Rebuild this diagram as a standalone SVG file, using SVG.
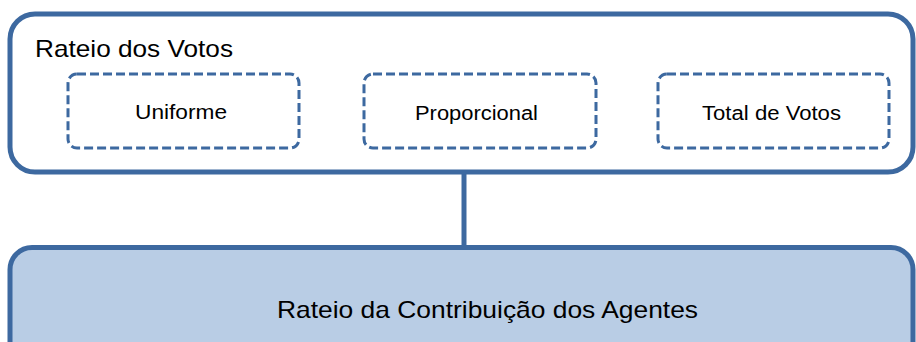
<svg xmlns="http://www.w3.org/2000/svg" width="916" height="342" viewBox="0 0 916 342">
<style>
.outer{fill:#FFFFFF;stroke:#3D69A0;stroke-width:5}
.base{fill:#B9CDE5;stroke:#3D69A0;stroke-width:5}
.dash{fill:#FFFFFF;stroke:#3D69A0;stroke-width:3;stroke-dasharray:9 4}
.conn{stroke:#3D69A0;stroke-width:5;fill:none}
text{font-family:"Liberation Sans",Arial,sans-serif;fill:#000000}
.t20{font-size:20px}
.t24{font-size:24px}
</style>
<rect width="916" height="342" fill="#FFFFFF"/>
<g id="connectors">
<line class="conn" x1="464" y1="172" x2="464" y2="247"/>
</g>
<g id="rateio-votos">
<rect class="outer" x="10" y="14" width="903" height="158" rx="25" ry="25"/>
<text class="t24" x="35" y="57" textLength="198" lengthAdjust="spacingAndGlyphs">Rateio dos Votos</text>
</g>
<g id="uniforme">
<rect class="dash" x="68" y="74" width="231" height="74" rx="9" ry="9"/>
<text class="t20" x="135" y="119" textLength="92" lengthAdjust="spacingAndGlyphs">Uniforme</text>
</g>
<g id="proporcional">
<rect class="dash" x="364" y="74" width="232" height="74" rx="9" ry="9"/>
<text class="t20" x="415" y="120" textLength="123" lengthAdjust="spacingAndGlyphs">Proporcional</text>
</g>
<g id="total-votos">
<rect class="dash" x="658" y="74" width="231" height="74" rx="9" ry="9"/>
<text class="t20" x="702" y="120" textLength="139" lengthAdjust="spacingAndGlyphs">Total de Votos</text>
</g>
<g id="rateio-contribuicao">
<rect class="base" x="10" y="247.5" width="903" height="130" rx="22" ry="22"/>
<text class="t24" x="277" y="318" textLength="421" lengthAdjust="spacingAndGlyphs">Rateio da Contribuição dos Agentes</text>
</g>
</svg>
